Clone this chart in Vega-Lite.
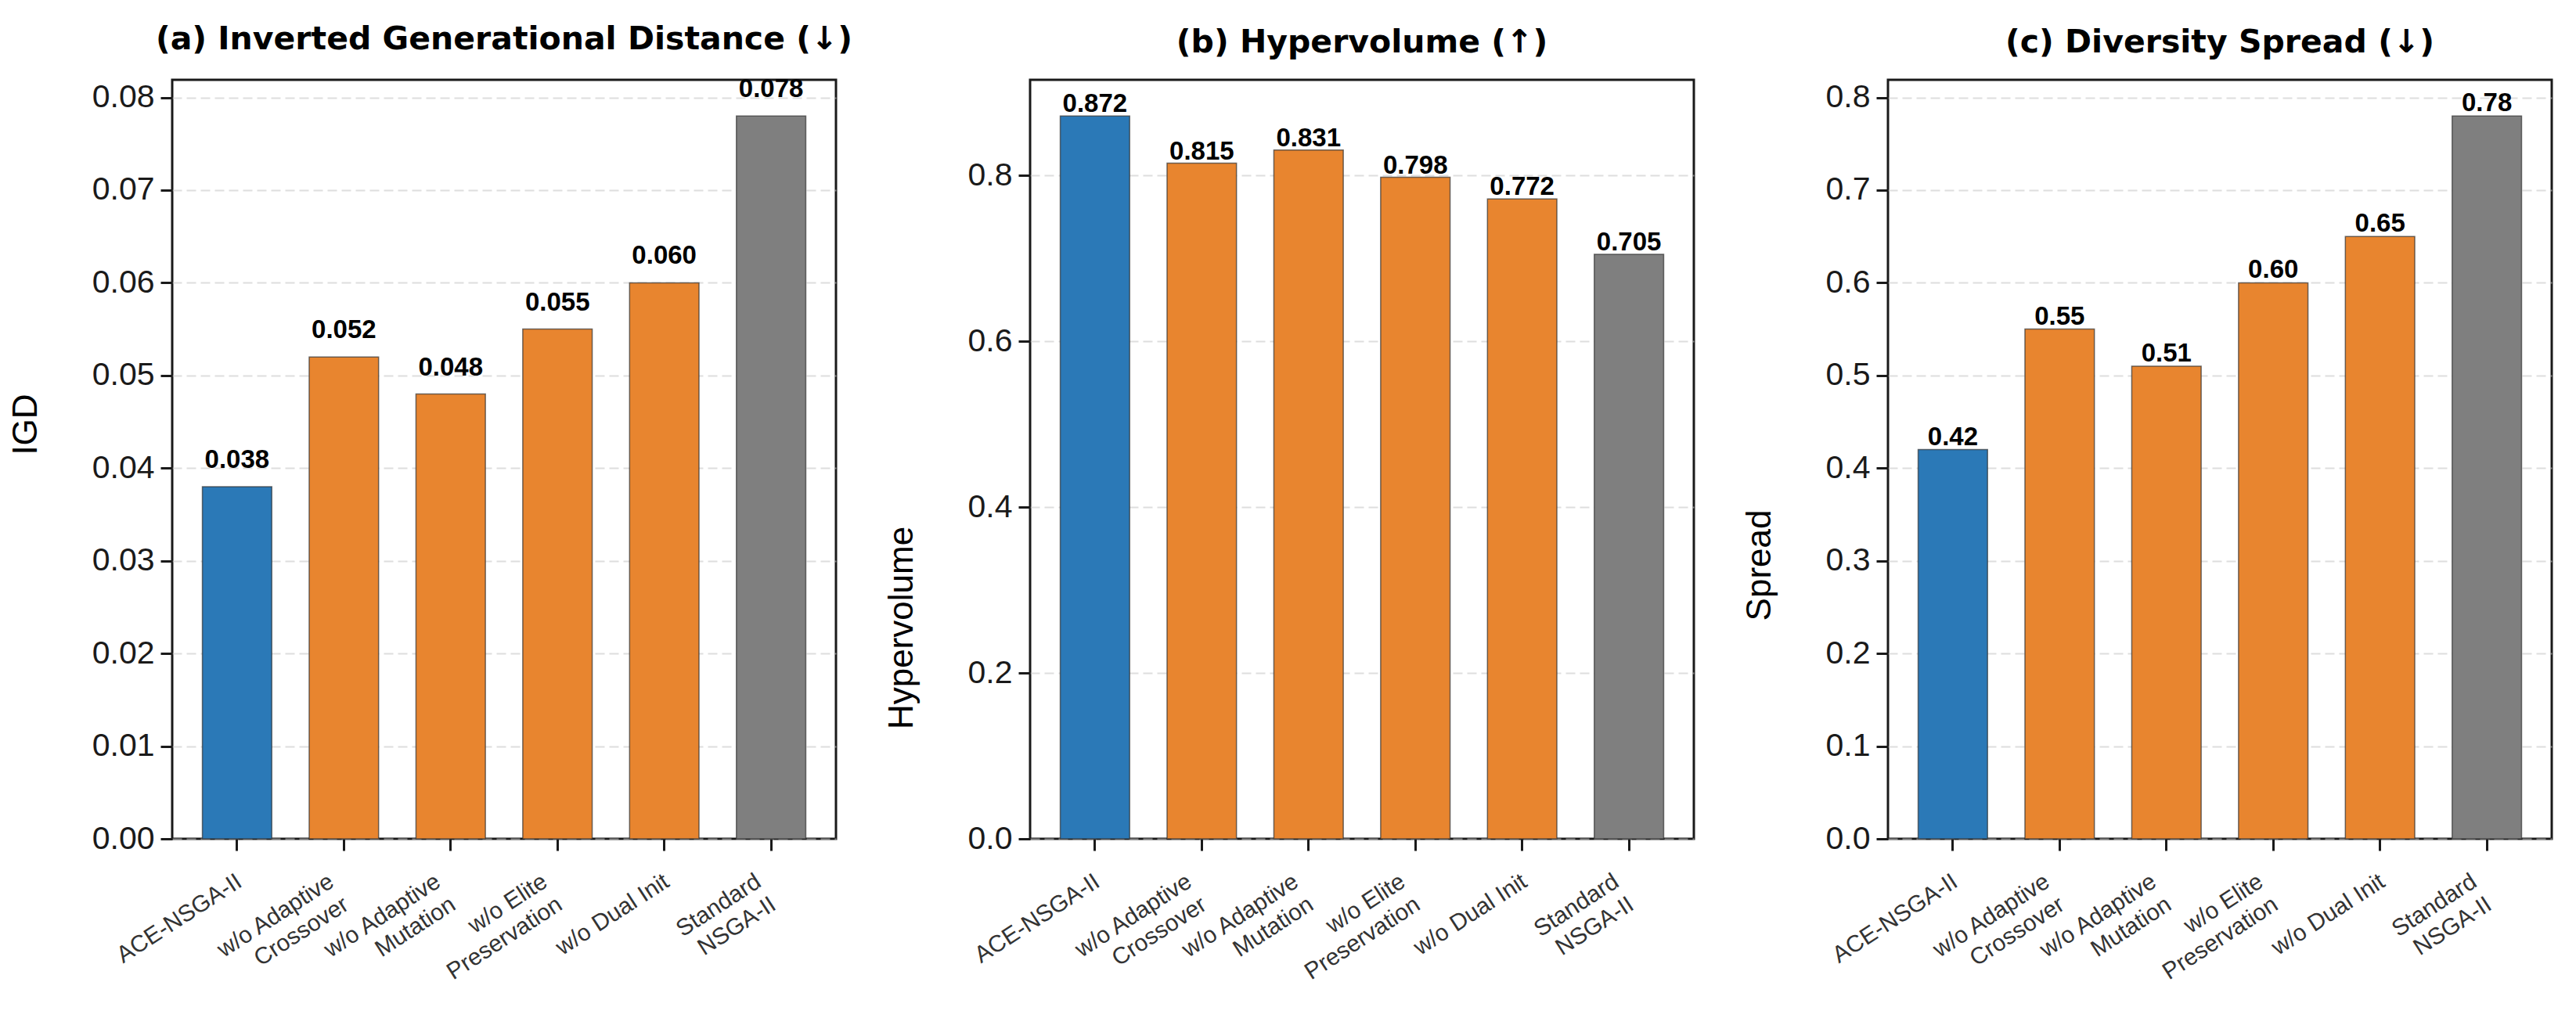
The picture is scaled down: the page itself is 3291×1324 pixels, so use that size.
{
  "$schema": "https://vega.github.io/schema/vega-lite/v6.json",
  "padding": {"left": 9, "top": 28, "right": 20, "bottom": 10},
  "background": "white",
  "bounds": "flush",
  "spacing": 248,
  "config": {
    "font": "Liberation Sans",
    "view": {"stroke": "#1a1a1a", "strokeWidth": 3},
    "title": {"fontSize": 41, "fontWeight": "bold", "color": "#000000", "anchor": "middle", "offset": 26, "font": "DejaVu Sans"},
    "axis": {
      "domain": false,
      "labelFont": "Liberation Sans",
      "titleFont": "Liberation Sans",
      "labelColor": "#1a1a1a",
      "titleColor": "#000000",
      "titleFontWeight": "normal",
      "tickColor": "#1a1a1a",
      "tickWidth": 3,
      "tickSize": 15
    },
    "axisY": {
      "labelFontSize": 41,
      "titleFontSize": 44,
      "labelPadding": 8,
      "titlePadding": 62,
      "grid": true,
      "gridColor": "#c8c8c8",
      "gridDash": [12, 6],
      "gridWidth": 2,
      "gridOpacity": 0.6
    },
    "axisX": {
      "grid": false,
      "labelFontSize": 30,
      "labelAngle": -33,
      "labelAlign": "right",
      "labelBaseline": "top",
      "labelPadding": 24,
      "labelLimit": 0,
      "labelColor": "#333333",
      "labelLineHeight": 35,
      "labelOffset": {"condition": {"test": "indexof(datum.label, '\\n') >= 0", "value": -24}, "value": -5}
    },
    "bar": {"stroke": "#333333", "strokeWidth": 1.5, "strokeOpacity": 0.7},
    "text": {"fontSize": 33, "fontWeight": "bold", "color": "#000000", "baseline": "alphabetic", "align": "center"}
  },
  "datasets": {
    "ablation": [
      {"variant": "ACE-NSGA-II", "kind": "proposed", "IGD": 0.038, "HV": 0.872, "Spread": 0.42},
      {"variant": "w/o Adaptive\nCrossover", "kind": "ablation", "IGD": 0.052, "HV": 0.815, "Spread": 0.55},
      {"variant": "w/o Adaptive\nMutation", "kind": "ablation", "IGD": 0.048, "HV": 0.831, "Spread": 0.51},
      {"variant": "w/o Elite\nPreservation", "kind": "ablation", "IGD": 0.055, "HV": 0.798, "Spread": 0.60},
      {"variant": "w/o Dual Init", "kind": "ablation", "IGD": 0.060, "HV": 0.772, "Spread": 0.65},
      {"variant": "Standard\nNSGA-II", "kind": "baseline", "IGD": 0.078, "HV": 0.705, "Spread": 0.78}
    ]
  },
  "hconcat": [
    {
      "title": "(a) Inverted Generational Distance (↓)",
      "width": 848,
      "height": 970,
      "data": {"name": "ablation"},
      "encoding": {
        "x": {
          "field": "variant", "type": "nominal", "sort": null,
          "scale": {"paddingInner": 0.35, "paddingOuter": 0.2825},
          "axis": {"title": null, "labelExpr": "split(datum.label, '\\n')"}
        },
        "y": {
          "field": "IGD", "type": "quantitative",
          "scale": {"domain": [0, 0.0819], "nice": false, "zero": true},
          "axis": {"title": "IGD", "titleY": 440, "values": [0, 0.01, 0.02, 0.03, 0.04, 0.05, 0.06, 0.07, 0.08], "format": ".2f"}
        }
      },
      "layer": [
        {
          "mark": {"type": "bar"},
          "encoding": {
            "color": {
              "field": "kind", "type": "nominal", "legend": null,
              "scale": {"domain": ["proposed", "ablation", "baseline"], "range": ["#2b79b7", "#e8852f", "#7f7f7f"]}
            }
          }
        },
        {
          "mark": {"type": "text", "dy": -24},
          "encoding": {"text": {"field": "IGD", "type": "quantitative", "format": ".3f"}}
        }
      ]
    },
    {
      "title": "(b) Hypervolume (↑)",
      "width": 848,
      "height": 970,
      "data": {"name": "ablation"},
      "encoding": {
        "x": {
          "field": "variant", "type": "nominal", "sort": null,
          "scale": {"paddingInner": 0.35, "paddingOuter": 0.2825},
          "axis": {"title": null, "labelExpr": "split(datum.label, '\\n')"}
        },
        "y": {
          "field": "HV", "type": "quantitative",
          "scale": {"domain": [0, 0.9156], "nice": false, "zero": true},
          "axis": {"title": "Hypervolume", "titleY": 700, "values": [0, 0.2, 0.4, 0.6, 0.8], "format": ".1f"}
        }
      },
      "layer": [
        {
          "mark": {"type": "bar"},
          "encoding": {
            "color": {
              "field": "kind", "type": "nominal", "legend": null,
              "scale": {"domain": ["proposed", "ablation", "baseline"], "range": ["#2b79b7", "#e8852f", "#7f7f7f"]}
            }
          }
        },
        {
          "mark": {"type": "text", "dy": -5},
          "encoding": {"text": {"field": "HV", "type": "quantitative", "format": ".3f"}}
        }
      ]
    },
    {
      "title": "(c) Diversity Spread (↓)",
      "width": 848,
      "height": 970,
      "data": {"name": "ablation"},
      "encoding": {
        "x": {
          "field": "variant", "type": "nominal", "sort": null,
          "scale": {"paddingInner": 0.35, "paddingOuter": 0.2825},
          "axis": {"title": null, "labelExpr": "split(datum.label, '\\n')"}
        },
        "y": {
          "field": "Spread", "type": "quantitative",
          "scale": {"domain": [0, 0.819], "nice": false, "zero": true},
          "axis": {"title": "Spread", "titleY": 620, "values": [0, 0.1, 0.2, 0.3, 0.4, 0.5, 0.6, 0.7, 0.8], "format": ".1f"}
        }
      },
      "layer": [
        {
          "mark": {"type": "bar"},
          "encoding": {
            "color": {
              "field": "kind", "type": "nominal", "legend": null,
              "scale": {"domain": ["proposed", "ablation", "baseline"], "range": ["#2b79b7", "#e8852f", "#7f7f7f"]}
            }
          }
        },
        {
          "mark": {"type": "text", "dy": -6},
          "encoding": {"text": {"field": "Spread", "type": "quantitative", "format": ".2f"}}
        }
      ]
    }
  ]
}
